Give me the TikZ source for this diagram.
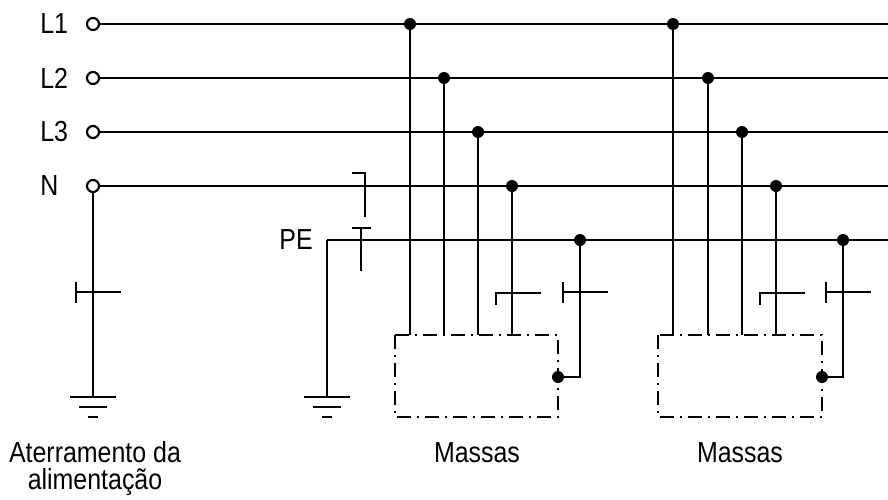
\documentclass[tikz,border=0pt]{standalone}
\usepackage{graphicx}
\usepackage{fontspec}
\setmainfont{Liberation Sans}
\newcommand{\nar}[1]{\scalebox{0.86}[1]{#1}}

\begin{document}
\begin{tikzpicture}[x = 1pt, y = -1pt, line width = 2.6pt,
            term/.style = {shape = circle, draw, fill = white, line width = 2.2pt, inner sep = 0pt, minimum size = 12pt},
            dot/.style = {shape = circle, fill = black, inner sep = 0pt, minimum size = 12pt},
            massbox/.style = {dash pattern = on 14pt off 6pt on 2pt off 6pt},
            lbl/.style = {font = \fontsize{29}{27}\selectfont, inner sep = 0pt}]
            \useasboundingbox (0,0) rectangle (888,499);
            % barramentos
            \foreach \n/\y in {L1/24, L2/78, L3/132, N/186}{
                \node[term] (\n) at (93,\y) {};
                \node[lbl, anchor = west] (\n lbl) at (39,\y) {\nar{\n}};
                \coordinate (\n e) at (888,\y);
                \draw (\n) -- (\n e);
            }
            \coordinate (PE0) at (327,240);
            \coordinate (PEe) at (888,240);
            \node[lbl, anchor = east] (PElbl) at (314,240) {\nar{PE}};
            \draw (PE0) -- (PEe);
            % aterramentos
            \coordinate (gA) at (93,397);
            \coordinate (gB) at (327,397);
            \draw (N) -- (gA);
            \draw (PE0) -- (gB);
            \foreach \g in {gA, gB}{
                \draw (\g) ++(-23,0) -- ++(46,0);
                \draw (\g) ++(-14,10) -- ++(28,0);
                \draw (\g) ++(-5,20) -- ++(10,0);
            }
            % seccionamento N-PE
            \draw (352,173) -- (365,173) -- (365,217);
            \draw (352,228) -- (371,228);
            \draw (361,228) -- (361,271);
            % massas
            \foreach \l/\r in {395/558, 658/822}{
                \draw[massbox] (\l,335) rectangle (\r,417);
            }
            \node[dot] (L1d1) at (410,24) {};
            \node[dot] (L2d1) at (444,78) {};
            \node[dot] (L3d1) at (478,132) {};
            \node[dot] (Nd1) at (512,186) {};
            \node[dot] (PEd1) at (580,240) {};
            \node[dot] (L1d2) at (673,24) {};
            \node[dot] (L2d2) at (708,78) {};
            \node[dot] (L3d2) at (742,132) {};
            \node[dot] (Nd2) at (776,186) {};
            \node[dot] (PEd2) at (843,240) {};
            \node[dot] (mA) at (558,377) {};
            \node[dot] (mB) at (822,377) {};
            \foreach \n in {L1, L2, L3, N}{
                \draw (\n d1.center) -- (\n d1.center |- 0,335);
                \draw (\n d2.center) -- (\n d2.center |- 0,335);
            }
            \draw (PEd1.center) |- (mA.center);
            \draw (PEd2.center) |- (mB.center);
            % barras
            \foreach \x in {93, 580, 843}{
                \draw (\x-17,282) -- (\x-17,303);
                \draw (\x-17,292) -- (\x+28,292);
            }
            \foreach \x in {512, 776}{
                \draw (\x-16,305) -- (\x-16,293) -- (\x+29,293);
            }
            % textos
            \node[lbl, anchor = base, align = center] (sup) at (95,489) {\nar{Aterramento da}\\\nar{alimentação}};
            \node[lbl, anchor = base] (mas1) at (477,462) {\nar{Massas}};
            \node[lbl, anchor = base] (mas2) at (740,462) {\nar{Massas}};
\end{tikzpicture}
\end{document}
